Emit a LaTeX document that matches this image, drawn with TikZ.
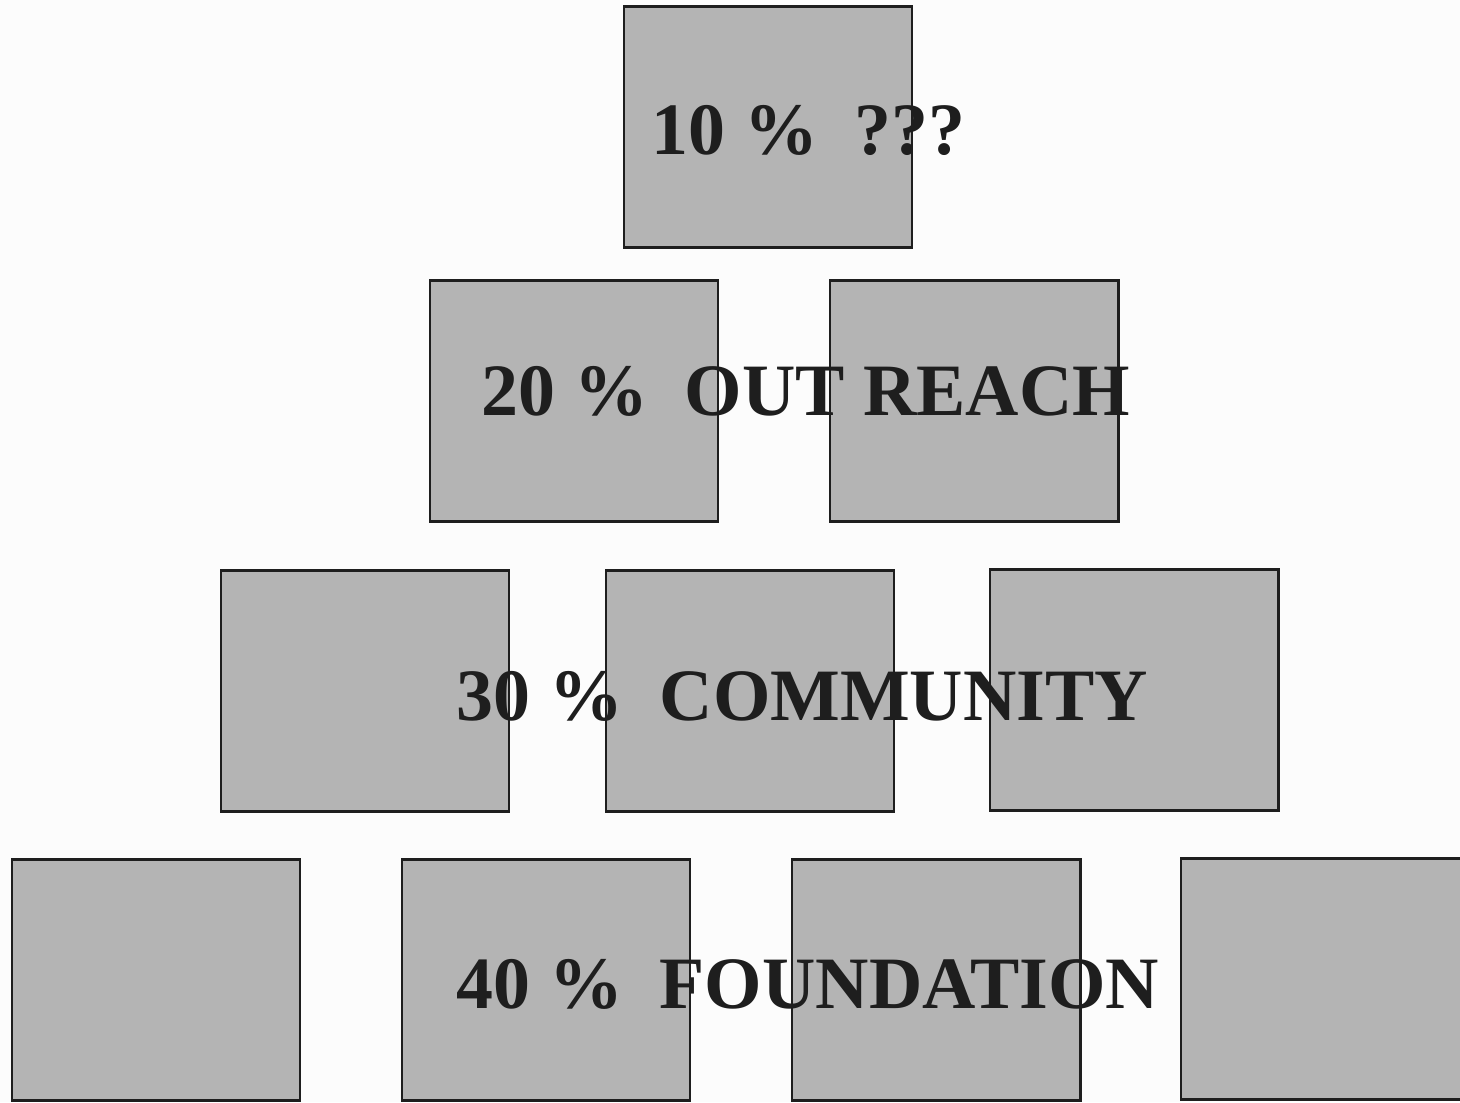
\documentclass[tikz,border=0pt]{standalone}
\usepackage{fontspec}
\setmainfont{Liberation Serif}
\usetikzlibrary{positioning}
\definecolor{ink}{RGB}{30,30,30}
\definecolor{paper}{RGB}{252,252,252}
\definecolor{slab}{RGB}{180,180,180}
\tikzset{
  blk/.style={fill=slab,minimum width=2.88cm,minimum height=2.41cm,
    inner sep=0pt,outer sep=0pt},
  rim/.style={draw=ink,line width=0.8pt},
  lvl/.style={font=\bfseries\fontsize{21}{26}\selectfont,text=ink,
    inner sep=0pt,anchor=base west},
}
\begin{document}
\begin{tikzpicture}[x=0.01cm,y=-0.01cm]
  \fill[paper] (0,0) rectangle (1460,1102);
  \useasboundingbox (0,0) rectangle (1460,1102);
  % blocks of the pyramid, row by row
  \foreach \n/\x/\y in {a/768/127, b/574/401, c/974/401,
      d/365/691, e/750/691, f/1134/690,
      g/156/980, h/546/980, i/936/980, j/1325/979} {
    \node[blk] (\n) at (\x,\y) {};
  }
  % level labels
  \node[lvl] (t1) at (651,154) {10 \%\ \ ???};
  \node[lvl] (t2) at (481,415) {20 \%\ \ OUT REACH};
  \node[lvl] (t3) at (456,720) {30 \%\ \ COMMUNITY};
  \node[lvl] (t4) at (456,1008) {40 \%\ \ FOUNDATION};
  % outlines over the labels
  \foreach \n in {a,...,j}
    \draw[rim] (\n.south west) rectangle (\n.north east);
\end{tikzpicture}
\end{document}
